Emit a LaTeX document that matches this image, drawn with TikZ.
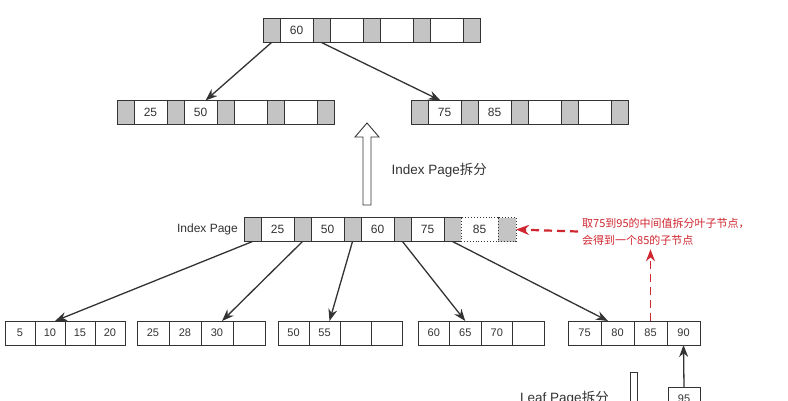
\documentclass[tikz,border=0pt]{standalone}
\usepackage{fontspec}
\setmainfont{Liberation Sans}
\newfontfamily\cjk{Noto Sans CJK SC}
\usetikzlibrary{positioning,arrows.meta}

\definecolor{ink}{RGB}{51,51,51}
\definecolor{keygray}{RGB}{196,196,196}
\definecolor{notered}{RGB}{208,38,48}

\tikzset{
  cell/.style={draw=ink, line width=0.9pt, inner sep=0pt, outer sep=0pt,
    minimum height=24pt, anchor=west, text=ink, font=\fontsize{12}{14}\selectfont},
  ptr/.style={cell, fill=keygray, minimum width=17pt},
  key/.style={cell, fill=white, minimum width=33pt},
  rec/.style={cell, fill=white, minimum width=#1, font=\fontsize{11}{13}\selectfont},
  rec/.default=31pt,
  link/.style={draw=ink, line width=1.3pt, -{Stealth[length=12pt,width=9pt]}},
  redlink/.style={draw=notered, line width=2.2pt, dash pattern=on 8pt off 5pt,
    -{Stealth[length=13pt,width=10pt]}},
  hollow/.style={draw=ink, line width=0.9pt, fill=white},
}

\begin{document}
\begin{tikzpicture}[x=1pt, y=-1pt]
\useasboundingbox[fill=white] (0,0) rectangle (788,400);

% root page
\foreach \i/\k in {0/60,1/{},2/{},3/{}} {
  \node[ptr] (root-p\i) at (263+50*\i,30.5) {};
  \node[key, right=0pt of root-p\i] (root-k\i) {\k};
}
\node[ptr] (root-p4) at (463,30.5) {};

% second level
\foreach \i/\k in {0/25,1/50,2/{},3/{}} {
  \node[ptr] (left-p\i) at (117+50*\i,112.5) {};
  \node[key, right=0pt of left-p\i] (left-k\i) {\k};
}
\node[ptr] (left-p4) at (317,112.5) {};
\foreach \i/\k in {0/75,1/85,2/{},3/{}} {
  \node[ptr] (right-p\i) at (411+50*\i,112.5) {};
  \node[key, right=0pt of right-p\i] (right-k\i) {\k};
}
\node[ptr] (right-p4) at (611,112.5) {};

\draw[link] (root-p0.south) -- ([xshift=5pt]left-k1.north);
\draw[link] (root-p1.south) -- ([xshift=-4pt]right-k0.north);

% split arrow
\draw[hollow] (363,205) -- (363,137) -- (355,137) -- (367,123) -- (379,137)
  -- (371,137) -- (371,205) -- cycle;
\node[anchor=west, text=ink, font=\fontsize{13.5}{15}\selectfont] (splitcap) at (388,170)
  {Index Page{\cjk 拆分}};

% index page
\foreach \i/\k in {0/25,1/50,2/60,3/75} {
  \node[ptr] (idx-p\i) at (244+50*\i,229.5) {};
  \node[key, right=0pt of idx-p\i] (idx-k\i) {\k};
}
\node[ptr] (idx-p4) at (444,229.5) {};
\node[key, dotted, minimum width=37pt, right=0pt of idx-p4] (idx-k4) {85};
\node[ptr, dotted, minimum width=18pt, right=0pt of idx-k4] (idx-p5) {};
\node[left=6pt of idx-p0, inner sep=0pt, text=ink, font=\fontsize{12}{14}\selectfont] (idxcap) {Index Page};

% note
\node[anchor=west, align=left, inner sep=4pt, text=notered, font=\cjk\fontsize{11}{17}\selectfont]
  (note) at (578,231.5) {取75到95的中间值拆分叶子节点，\\会得到一个85的子节点};
\draw[redlink] (note.west) -- (idx-p5.east);

% leaf pages
\foreach \j/\v in {1/5,2/10,3/15,4/20}
  \node[rec=30pt] (la-\j) at (5+30*\j-30,333) {\v};
\foreach \j/\v in {1/25,2/28,3/30,4/{}}
  \node[rec=32pt] (lb-\j) at (137+32*\j-32,333) {\v};
\foreach \j/\v in {1/50,2/55,3/{},4/{}}
  \node[rec=31pt] (lc-\j) at (278+31*\j-31,333) {\v};
\foreach \j/\v in {1/60,2/65,3/70,4/{}}
  \node[rec=31.5pt] (ld-\j) at (418+31.5*\j-31.5,333) {\v};
\foreach \j/\v in {1/75,2/80,3/85,4/90}
  \node[rec=33pt] (le-\j) at (568+33*\j-33,333) {\v};

\draw[link] (idx-p0.south) -- ([xshift=5pt]la-2.north);
\draw[link] (idx-p1.south) -- ([xshift=5pt]lb-3.north);
\draw[link] (idx-p2.south) -- ([xshift=5pt]lc-2.north);
\draw[link] (idx-p3.south) -- (ld-2.north);
\draw[link] (idx-p4.south) -- ([xshift=7pt]le-2.north west);

\draw[redlink, line width=1.8pt, -{Stealth[length=12pt,width=9pt]}] (le-3.north) -- (le-3.north |- note.south);

% leaf split
\draw[hollow] (630,372) rectangle (637,410);
\node[anchor=north west, inner sep=0pt, text=ink, font=\fontsize{13.5}{15}\selectfont]
  (leafcap) at (520,391) {Leaf Page{\cjk 拆分}};
\node[rec=32pt] (n95) at (668,399) {95};
\draw[link] (n95.north) -- (le-4.south);
\end{tikzpicture}
\end{document}
